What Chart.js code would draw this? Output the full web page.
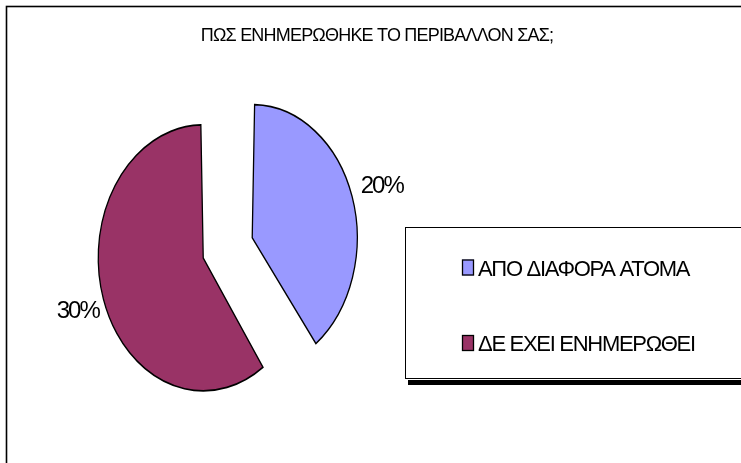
<!DOCTYPE html>
<html>
<head>
<meta charset="utf-8">
<title>ΠΩΣ ΕΝΗΜΕΡΩΘΗΚΕ ΤΟ ΠΕΡΙΒΑΛΛΟΝ ΣΑΣ;</title>
<script src="https://cdn.jsdelivr.net/npm/chart.js@4.4.1/dist/chart.umd.min.js"></script>
<style>
  html, body { margin: 0; padding: 0; background: #ffffff; }
  #wrap { position: relative; width: 741px; height: 463px; }
</style>
</head>
<body>
<div id="wrap"><canvas id="pieChart"></canvas></div>
<script>
// données du graphique
const chartTitle = 'ΠΩΣ ΕΝΗΜΕΡΩΘΗΚΕ ΤΟ ΠΕΡΙΒΑΛΛΟΝ ΣΑΣ;';
const categories = ['ΑΠΟ ΔΙΑΦΟΡΑ ΑΤΟΜΑ', 'ΔΕ ΕΧΕΙ ΕΝΗΜΕΡΩΘΕΙ'];
const values = [20, 30];
const sliceColors = ['#9999FF', '#993366'];

const FONT = '"Liberation Sans", Arial, sans-serif';
const squash = 133 / 105; // le camembert est une ellipse (plus haut que large)

// dessine le cadre, le titre et la légende
const framePlugin = {
    id: 'frame',
    beforeDraw(chart) {
        const ctx = chart.ctx;
        ctx.save();
        ctx.fillStyle = '#ffffff';
        ctx.fillRect(0, 0, chart.width, chart.height);
        ctx.strokeStyle = '#000000';
        ctx.lineWidth = 1.6;
        ctx.strokeRect(6.5, 6.5, chart.width + 50, chart.height + 50);

        ctx.fillStyle = '#000000';
        ctx.font = '18px ' + FONT;
        ctx.letterSpacing = '-0.8px';
        ctx.textAlign = 'center';
        ctx.textBaseline = 'alphabetic';
        ctx.fillText(chartTitle, 377, 40.5);
        ctx.restore();
    },
    afterDraw(chart) {
        const ctx = chart.ctx;
        ctx.save();
        // ombre de la légende
        ctx.fillStyle = '#000000';
        ctx.fillRect(408, 380, 400, 5);
        ctx.fillStyle = '#ffffff';
        ctx.fillRect(405, 227, 400, 152);
        ctx.strokeStyle = '#000000';
        ctx.lineWidth = 1;
        ctx.strokeRect(405.5, 227.5, 400, 151);

        const rows = [275.5, 351];
        ctx.font = '22px ' + FONT;
        ctx.letterSpacing = '-1.3px';
        ctx.textAlign = 'left';
        ctx.textBaseline = 'alphabetic';
        categories.forEach((cat, i) => {
            const y = rows[i];
            ctx.fillStyle = sliceColors[i];
            ctx.fillRect(462, y - 16, 12, 16);
            ctx.strokeStyle = '#000000';
            ctx.lineWidth = 1.3;
            ctx.strokeRect(462.5, y - 15.5, 11, 15);
            ctx.fillStyle = '#000000';
            ctx.fillText(cat, 478, y);
        });
        ctx.restore();
    }
};

// transforme le cercle en ellipse et ajoute les étiquettes
const ellipsePlugin = {
    id: 'ellipse',
    beforeDatasetsDraw(chart) {
        const arc = chart.getDatasetMeta(0).data[0];
        const ctx = chart.ctx;
        ctx.save();
        ctx.translate(arc.x, arc.y);
        ctx.scale(1, squash);
        ctx.translate(-arc.x, -arc.y);
    },
    afterDatasetsDraw(chart) {
        const ctx = chart.ctx;
        ctx.restore();

        ctx.save();
        ctx.font = '24px ' + FONT;
        ctx.letterSpacing = '-2px';
        ctx.fillStyle = '#000000';
        ctx.textAlign = 'center';
        ctx.textBaseline = 'middle';
        chart.getDatasetMeta(0).data.forEach((arc, i) => {
            const mid = (arc.startAngle + arc.endAngle) / 2;
            // même calcul que ArcElement.draw : décalage offset/4, rayon agrandi de offset/4 * fix
            const off = arc.options.offset / 4;
            const fix = 1 - Math.sin(Math.min(Math.PI, arc.circumference));
            const dist = off + arc.outerRadius + off * fix + 29;
            const x = arc.x + Math.cos(mid) * dist;
            const y = arc.y + Math.sin(mid) * dist * squash;
            ctx.fillText(values[i] + '%', x + 2, y + 1);
        });
        ctx.restore();
    }
};

new Chart(document.getElementById('pieChart'), {
    type: 'pie',
    data: {
        labels: categories,
        datasets: [{
            data: values,
            backgroundColor: sliceColors,
            borderColor: '#000000',
            borderWidth: 1.3,
            borderJoinStyle: 'miter',
            offset: [146, 60],
            radius: 90
        }]
    },
    options: {
        responsive: true,
        maintainAspectRatio: false,
        animation: false,
        events: [],
        layout: { padding: { left: 0, right: 306, top: 41, bottom: 0 } },
        plugins: {
            legend: { display: false },
            title: { display: false },
            tooltip: { enabled: false }
        }
    },
    plugins: [framePlugin, ellipsePlugin]
});
</script>
</body>
</html>
